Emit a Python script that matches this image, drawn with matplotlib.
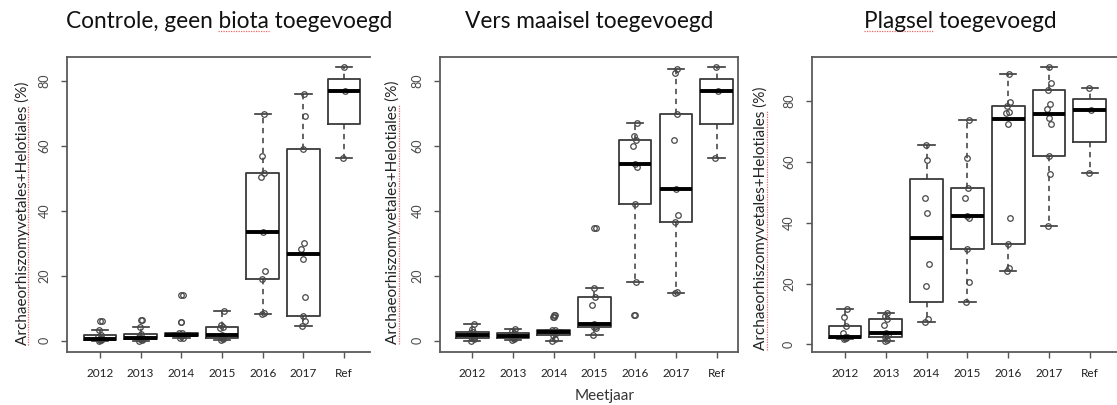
import math
import matplotlib.pyplot as plt
from matplotlib.lines import Line2D

plt.rcParams['font.family'] = ['Lato', 'DejaVu Sans']

W, H = 1117, 405

years = ['2012', '2013', '2014', '2015', '2016', '2017', 'Ref']

# per-plot measurements (%), one list per year
controle = [
    [0.0, 0.1, 0.2, 0.4, 0.6, 1.2, 1.8, 3.3, 6.0],
    [0.0, 0.2, 0.4, 0.6, 0.8, 1.2, 2.1, 4.1, 6.3],
    [0.8, 1.0, 1.5, 1.7, 1.9, 2.3, 2.5, 5.9, 14.1],
    [0.3, 0.5, 0.9, 1.5, 1.7, 3.8, 4.3, 5.0, 9.2],
    [8.2, 8.6, 18.9, 21.6, 33.6, 50.4, 51.6, 56.9, 70.0],
    [4.7, 6.2, 7.7, 13.5, 25.1, 28.3, 30.0, 59.0, 69.3, 75.9],
    [56.4, 77.0, 84.2],
]

maaisel = [
    [0.0, 0.4, 0.7, 1.2, 1.7, 2.3, 2.8, 3.5, 5.3],
    [0.3, 0.5, 0.7, 1.0, 1.4, 1.8, 2.3, 3.0, 3.5],
    [0.0, 0.6, 1.7, 2.4, 2.8, 3.3, 3.4, 7.3, 7.8],
    [1.7, 4.0, 4.1, 4.5, 5.3, 11.0, 13.5, 16.4, 34.8],
    [7.9, 18.0, 42.0, 53.4, 54.6, 60.1, 61.8, 63.0, 67.1],
    [14.8, 15.0, 36.6, 38.7, 46.6, 61.8, 70.0, 82.6, 83.7],
    [56.4, 77.0, 84.2],
]

plagsel = [
    [1.8, 2.0, 2.0, 2.3, 2.5, 3.8, 6.1, 9.1, 11.8],
    [1.2, 1.6, 2.3, 3.0, 3.8, 6.4, 8.2, 9.5, 10.2],
    [7.5, 8.5, 19.2, 26.6, 43.3, 48.0, 60.6, 65.5],
    [13.8, 20.6, 31.3, 41.5, 42.2, 48.3, 51.3, 61.2, 73.8],
    [24.0, 25.0, 33.0, 41.6, 72.4, 76.2, 76.5, 78.5, 79.8, 88.8],
    [38.9, 56.2, 61.9, 72.4, 74.5, 77.3, 79.2, 83.6, 86.0, 91.1],
    [56.4, 77.0, 84.2],
]

titles = ['Controle, geen biota toegevoegd', 'Vers maaisel toegevoegd',
          'Plagsel toegevoegd']
ylab = 'Archaeorhiszomyvetales+Helotiales (%)'

# horizontal offsets for the stripchart points
jitter = [-0.03, 0.03, -0.01, 0.05, 0.0, -0.05, 0.02, -0.02, 0.04, 0.01]


def fivenum(v):
    x = sorted(v)
    n = len(x)
    n4 = math.floor((n + 3) / 2) / 2
    out = []
    for d in [1, n4, (n + 1) / 2, n + 1 - n4, n]:
        out.append(0.5 * (x[math.floor(d) - 1] + x[math.ceil(d) - 1]))
    return out


def box_stats(v):
    lo, q1, med, q3, hi = fivenum(v)
    c = 1.5 * (q3 - q1)
    inside = [a for a in v if q1 - c <= a <= q3 + c]
    return dict(med=med, q1=q1, q3=q3, whislo=min(inside), whishi=max(inside),
                fliers=[a for a in v if a < q1 - c or a > q3 + c])


def draw_panel(ax, groups, xlim, right_spine):
    pos = list(range(1, len(groups) + 1))
    stats = [box_stats(g) for g in groups]
    ax.bxp(stats, positions=pos, widths=0.8, capwidths=0.4,
           boxprops=dict(color='#3a3a3a', lw=1.3),
           medianprops=dict(color='black', lw=2.8, solid_capstyle='butt'),
           whiskerprops=dict(color='#3a3a3a', lw=1.1, linestyle=(0, (3.5, 3))),
           capprops=dict(color='#3a3a3a', lw=1.2),
           flierprops=dict(marker='o', markerfacecolor='none',
                           markeredgecolor='#484848', markersize=4,
                           markeredgewidth=0.9),
           manage_ticks=False)
    for p, g in zip(pos, groups):
        xs = [p + jitter[i % len(jitter)] for i in range(len(g))]
        ax.plot(xs, g, 'o', mfc='none', mec='#484848', ms=4, mew=0.9)

    allv = [a for g in groups for a in g]
    lo, hi = min(allv), max(allv)
    pad = 0.04 * (hi - lo)
    ax.set_ylim(lo - pad, hi + pad)
    ax.set_xlim(*xlim)
    ax.set_xticks(pos)
    ax.set_xticklabels(years)
    ax.set_yticks([0, 20, 40, 60, 80])
    ax.tick_params(axis='x', length=4, width=1, color='#555555', pad=8,
                   labelsize=8.5, labelcolor='#222222')
    ax.tick_params(axis='y', length=4, width=1, color='#555555', pad=8,
                   labelsize=9, labelcolor='#4a4a4a', labelrotation=90)
    for t in ax.get_yticklabels():
        t.set_va('center')
    for s in ax.spines.values():
        s.set_color('#5a5a5a')
        s.set_linewidth(1.3)
    ax.spines['right'].set_visible(right_spine)


fig = plt.figure(figsize=(W / 100, H / 100), dpi=100)

bottom = 1 - 351.7 / H
height = 295.2 / H
panels = [
    (controle, 67, 370, (0.19, 7.635), False),
    (maaisel, 440, 738.3, (0.206, 7.535), True),
    (plagsel, 811.7, 1117, (0.184, 7.667), False),
]
for data, x0, x1, xl, rs in panels:
    ax = fig.add_axes([x0 / W, bottom, (x1 - x0) / W, height])
    draw_panel(ax, data, xl, rs)

# titles, axis labels
title_x = [229, 589, 960]
title_base = 28.3
ylab_x = [26.7, 397.5, 765.5]
ylab_y = [213, 212, 218]

title_txt = []
for tx, t in zip(title_x, titles):
    title_txt.append(fig.text(tx / W, 1 - title_base / H, t, fontsize=16.3,
                              ha='center', va='baseline', color='#111111'))
ylab_txt = []
for lx, ly in zip(ylab_x, ylab_y):
    ylab_txt.append(fig.text(lx / W, 1 - ly / H, ylab, fontsize=11,
                             rotation=90, rotation_mode='anchor',
                             ha='center', va='baseline', color='#222222'))
fig.text(604.7 / W, 1 - 396 / H, 'Meetjaar', fontsize=11, ha='center',
         va='center', color='#333333')

# red spell-check underlines
r = fig.canvas.get_renderer()


def width(s, t):
    return r.get_text_width_height_descent(s, t.get_fontproperties(), ismath=False)[0]


def squiggle(x0, y0, x1, y1):
    fig.add_artist(Line2D([x0 / W, x1 / W], [1 - y0 / H, 1 - y1 / H],
                          transform=fig.transFigure, color='#e5423a',
                          lw=0.9, alpha=0.8, linestyle=(0, (1, 1))))


for i, word, prefix in [(0, 'biota', 'Controle, geen biota'),
                        (2, 'Plagsel', 'Plagsel')]:
    t = title_txt[i]
    left = title_x[i] - width(titles[i], t) / 2
    end = left + width(prefix, t)
    squiggle(end - width(word, t), title_base + 2.5, end, title_base + 2.5)

for t, lx, ly in zip(ylab_txt, ylab_x, ylab_y):
    start = ly + width(ylab, t) / 2
    end = start - width('Archaeorhiszomyvetales+Helotiales', t)
    squiggle(lx + 1.5, start, lx + 1.5, end)

fig.savefig('out.png', dpi=100)
